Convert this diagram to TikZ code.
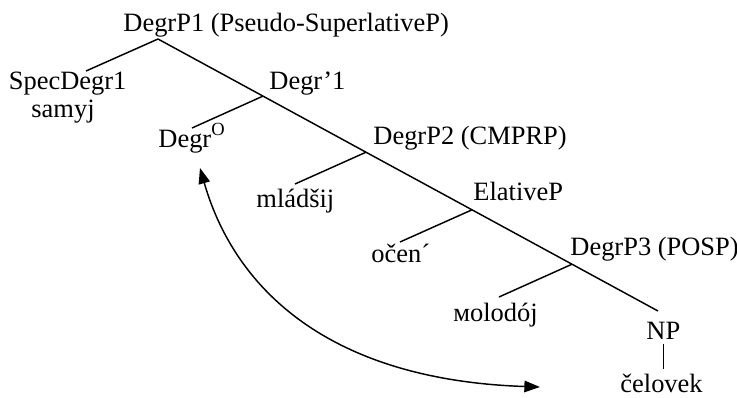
\documentclass[tikz,border=0pt]{standalone}
\usepackage{fontspec}
\setmainfont{Liberation Serif}
\usetikzlibrary{arrows.meta, calc}

\begin{document}
\begin{tikzpicture}[
  x=0.48pt, y=-0.48pt,
  font=\fontsize{12.7}{15}\selectfont,
  lbl/.style={anchor=base west, inner sep=0pt},
  edge/.style={line width=0.7pt},
  movement/.style={{Triangle[length=7.5pt,width=5.5pt]}-{Triangle[length=7.5pt,width=5.5pt]}, line width=0.7pt}
]
\useasboundingbox (0,0) rectangle (737,397);

% labels
\node[lbl] (dp1) at (123,31.5) {DegrP1 (Pseudo-SuperlativeP)};
\node[lbl] (spec) at (8.5,89.3) {SpecDegr1};
\node[lbl] (samyj) at (31,117) {samyj};
\node[lbl] (degbar) at (269,89.3) {Degr’1};
\node[lbl] (deg0) at (158,147.3) {Degr\raisebox{1.5pt}{\textsuperscript{O}}};
\node[lbl] (dp2) at (373,144) {DegrP2 (CMPRP)};
\node[lbl] (mladsij) at (256,207) {mládšij};
\node[lbl] (elat) at (473,200) {ElativeP};
\node[lbl] (ocen) at (371,262) {očen´};
\node[lbl] (dp3) at (570,255) {DegrP3 (POSP)};
\node[lbl] (molodoj) at (453,321) {мolodój};
\node[lbl] (np) at (646,339) {NP};
\node[lbl] (celovek) at (620,392) {čelovek};

% junctions and branch ends
\coordinate (r) at (158,39);
\coordinate (j1) at (263,96.1);
\coordinate (j2) at (366,152.2);
\coordinate (j3) at (472,209.8);
\coordinate (j4) at (572,264.2);
\coordinate (npTop) at (658,311);
\coordinate (b0) at (86,71);
\coordinate (b1) at (192,128);
\coordinate (b2) at (295,184);
\coordinate (b3) at (400,242);
\coordinate (b4) at (499,297);
\coordinate (celTop) at ($(np.south)+(0,30)$);

% tree
\draw[edge] (r) -- (j1) -- (j2) -- (j3) -- (j4) -- (npTop);
\draw[edge] (r) -- (b0);
\draw[edge] (j1) -- (b1);
\draw[edge] (j2) -- (b2);
\draw[edge] (j3) -- (b3);
\draw[edge] (j4) -- (b4);
\draw[edge, shorten <=2.4pt] (np.south) -- (celTop);

% movement
\coordinate (t0) at (200,168);
\coordinate (t1) at (540,387);
\draw[movement] (t0) .. controls (235,290) and (330,380) .. (t1);
\end{tikzpicture}
\end{document}
